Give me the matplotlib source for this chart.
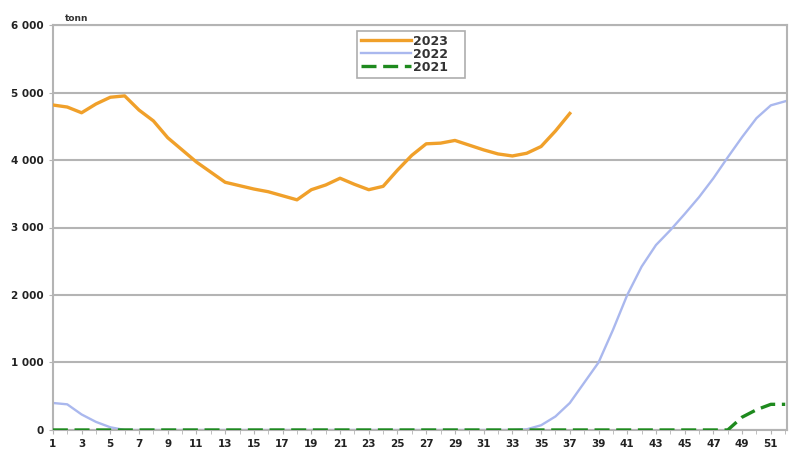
import numpy as np
import matplotlib.pyplot as plt
from matplotlib.ticker import FuncFormatter, MultipleLocator

weeks = np.arange(1, 53)

# tonn per week
y2023 = [4815, 4785, 4700, 4830, 4930, 4950, 4740, 4580, 4330, 4150,
         3970, 3820, 3670, 3620, 3570, 3530, 3470, 3410, 3560, 3630,
         3730, 3640, 3560, 3610, 3850, 4070, 4240, 4250, 4290, 4220,
         4150, 4090, 4060, 4100, 4200, 4430, 4690]
y2022 = [400, 380, 230, 120, 40, 0, 0, 0, 0, 0,
         0, 0, 0, 0, 0, 0, 0, 0, 0, 0,
         0, 0, 0, 0, 0, 0, 0, 0, 0, 0,
         0, 0, 0, 10, 70, 200, 400, 700, 1000, 1480,
         2000, 2420, 2740, 2960, 3200, 3450, 3730, 4040, 4340, 4620,
         4810, 4870]
y2021 = [0] * 48 + [190, 300, 380, 380]

fig = plt.figure(figsize=(7.89, 4.55), dpi=100)
ax = fig.add_axes([0.067, 0.055, 0.93, 0.89])

ax.plot(weeks[:len(y2023)], y2023, color='#f0a02a', lw=2.4, label='2023', zorder=4)
ax.plot(weeks, y2022, color='#aab8ee', lw=1.7, label='2022', zorder=2)
ax.plot(weeks, y2021, color='#1e8a1e', lw=2.4, ls=(0, (4.5, 2)), label='2021', zorder=3)

ax.set_xlim(1, 52.1)
ax.set_ylim(0, 6000)
ax.yaxis.set_major_locator(MultipleLocator(1000))
ax.yaxis.set_major_formatter(FuncFormatter(lambda v, p: f"{int(v):,}".replace(",", " ")))
ax.set_xticks(np.arange(1, 53, 2))
ax.xaxis.set_minor_locator(MultipleLocator(1))
ax.grid(axis='y', color='#b4b4b4', lw=1.5)
ax.set_axisbelow(True)
for s in ax.spines.values():
    s.set_color('#b4b4b4')
    s.set_linewidth(1.5)
ax.tick_params(axis='both', labelsize=7.5, colors='#b4b4b4', labelcolor='#222222', length=3)
ax.tick_params(axis='x', which='minor', length=3, colors='#b4b4b4')
for lab in ax.get_xticklabels() + ax.get_yticklabels():
    lab.set_fontweight('bold')

ax.text(0.017, 1.005, 'tonn', transform=ax.transAxes, fontsize=6.5,
        fontweight='bold', color='#333333', va='bottom')

leg = ax.legend(loc='upper center', bbox_to_anchor=(0.488, 0.985),
                prop={'weight': 'bold', 'size': 9}, frameon=True, fancybox=False,
                handlelength=4.0, handletextpad=0.2, labelspacing=0.0,
                borderpad=0.3, borderaxespad=0)
leg.get_frame().set_edgecolor('#999999')
leg.get_frame().set_linewidth(1.2)
for t in leg.get_texts():
    t.set_color('#333333')
    t.set_text(t.get_text() + '   ')

fig.savefig('out.png', dpi=100)
